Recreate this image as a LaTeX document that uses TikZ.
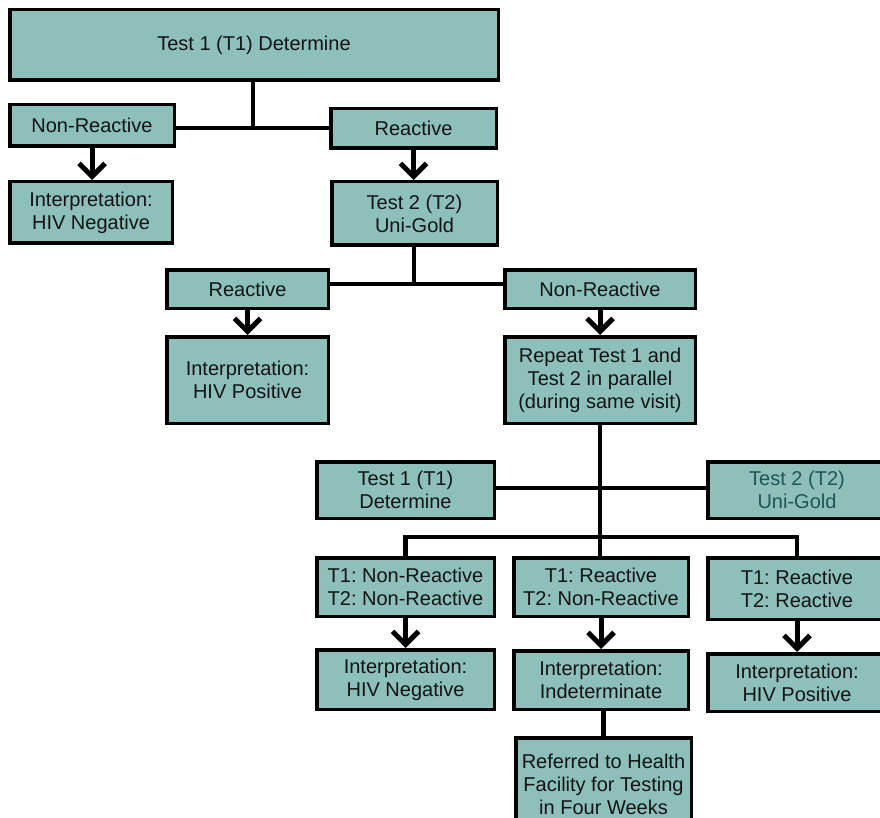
\documentclass[tikz,border=0pt]{standalone}
\usepackage{fontspec}
\setmainfont{Liberation Sans}
\usepackage{xcolor}
\usepackage{tikz}
\usetikzlibrary{arrows.meta}

\definecolor{boxfill}{HTML}{8DBFBB}
\definecolor{boxtext}{HTML}{141414}
\definecolor{tealtext}{HTML}{1F5557}

\tikzset{
  box/.style={draw=black, line width=3.5pt, fill=boxfill, align=center,
    inner sep=0pt, text=boxtext, font=\frenchspacing\fontsize{20}{23}\selectfont},
  link/.style={line width=4.5pt},
  arr/.style={link, line width=5pt, -{Straight Barb[length=13pt,width=26pt]}}
}

\begin{document}
\begin{tikzpicture}[x=1pt,y=-1pt]

\useasboundingbox (0,0) rectangle (880,818);

% First test
\node[box, minimum width=488.5, minimum height=70.5] (t1a) at (254,45) {Test 1 (T1) Determine};
\node[box, minimum width=164.5, minimum height=41.5] (nr1) at (92,125.5) {Non-Reactive};
\node[box, minimum width=165.5, minimum height=39.5] (r1) at (413.5,128.5) {Reactive};
\node[box, minimum width=162.5, minimum height=61.5] (neg1) at (91,212.5) {Interpretation:\\HIV Negative};
\node[box, minimum width=165.5, minimum height=63.5] (t2a) at (414.5,213.5) {Test 2 (T2)\\Uni-Gold};

% Second test
\node[box, minimum width=161.5, minimum height=38.5] (r2) at (247.5,289) {Reactive};
\node[box, minimum width=190.5, minimum height=38.5] (nr2) at (600,289) {Non-Reactive};
\node[box, minimum width=161.5, minimum height=86.5] (pos1) at (247.5,380) {Interpretation:\\HIV Positive};
\node[box, minimum width=190.5, minimum height=86.5] (rep) at (600,380) {Repeat Test 1 and\\Test 2 in parallel\\(during same visit)};

% Repeat in parallel
\node[box, minimum width=177.5, minimum height=56.5] (t1b) at (405.5,490) {Test 1 (T1)\\Determine};
\node[box, minimum width=178, minimum height=56.5, text=tealtext] (t2b) at (797,490) {Test 2 (T2)\\Uni-Gold};
\node[box, minimum width=177.5, minimum height=58.5] (g1) at (405.5,587) {T1: Non-Reactive\\T2: Non-Reactive};
\node[box, minimum width=174.5, minimum height=58.5] (g2) at (601,587) {T1: Reactive\\T2: Non-Reactive};
\node[box, minimum width=178, minimum height=61.5] (g3) at (797,588.5) {T1: Reactive\\T2: Reactive};
\node[box, minimum width=177.5, minimum height=59.5] (neg2) at (405.5,679.5) {Interpretation:\\HIV Negative};
\node[box, minimum width=174.5, minimum height=58.5] (ind) at (601,680) {Interpretation:\\Indeterminate};
\node[box, minimum width=178, minimum height=57.5] (pos2) at (797,682.5) {Interpretation:\\HIV Positive};
\node[box, minimum width=175.5, minimum height=92] (ref) at (603.5,784) {Referred to Health\\Facility for Testing\\in Four Weeks};

% Junctions
\coordinate (j1) at (253,128);
\coordinate (j2) at (414,284);
\coordinate (j3) at (600,488);
\coordinate (j4) at (600,537);

% Connectors
\draw[link] (t1a.south -| j1) -- (j1);
\draw[link] (nr1.east |- j1) -- (r1.west |- j1);
\draw[arr] (nr1.south) -- (nr1.south |- neg1.north);
\draw[arr] (r1.south) -- (r1.south |- t2a.north);

\draw[link] (t2a.south -| j2) -- (j2);
\draw[link] (r2.east |- j2) -- (nr2.west |- j2);
\draw[arr] (r2.south) -- (r2.south |- pos1.north);
\draw[arr] (nr2.south) -- (nr2.south |- rep.north);

\draw[link] (rep.south -| j3) -- (g2.north -| j3);
\draw[link] (t1b.east |- j3) -- (t2b.west |- j3);
\draw[link] (g1.north) -- (g1.north |- j4) -- (g3.north |- j4) -- (g3.north);

\draw[arr] (g1.south) -- (g1.south |- neg2.north);
\draw[arr] (g2.south) -- (g2.south |- ind.north);
\draw[arr] (g3.south) -- (g3.south |- pos2.north);
\draw[link] (ind.south -| ref.north) -- (ref.north);

\end{tikzpicture}
\end{document}
